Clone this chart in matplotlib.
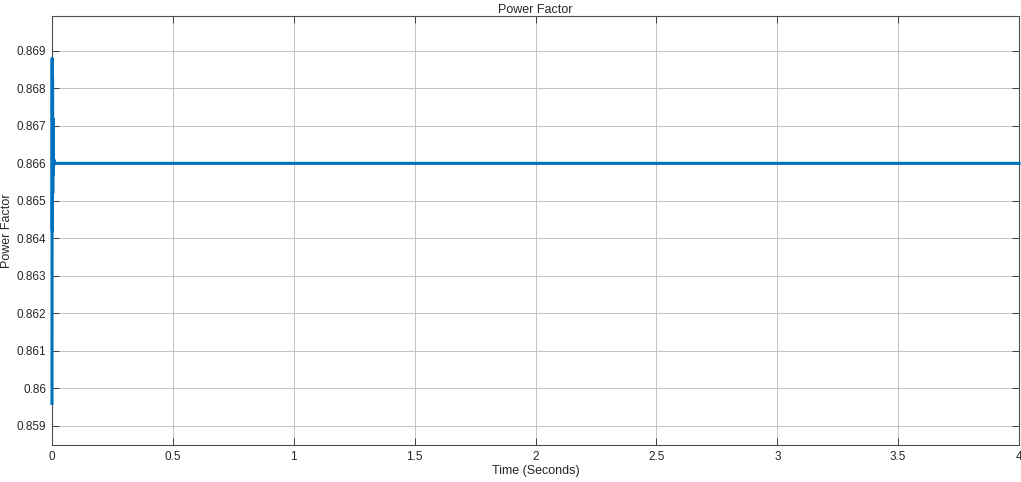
import numpy as np
import matplotlib.pyplot as plt

# simulated power factor: short transient at start, then steady at 0.866
time_s = [0.0, 0.0008, 0.0016, 0.0024, 0.0032, 0.004, 0.0048, 0.0056, 0.0064, 0.008, 0.01, 4.0]
power_factor = [0.8596, 0.8688, 0.8642, 0.8683, 0.8652, 0.8672, 0.8657, 0.8664, 0.8659, 0.8661, 0.8660, 0.8660]

xticks = [0, 0.5, 1, 1.5, 2, 2.5, 3, 3.5, 4]
xticklabels = ['0', '0.5', '1', '1.5', '2', '2.5', '3', '3.5', '4']
yticks = [0.859, 0.86, 0.861, 0.862, 0.863, 0.864, 0.865, 0.866, 0.867, 0.868, 0.869]
yticklabels = ['0.859', '0.86', '0.861', '0.862', '0.863', '0.864', '0.865', '0.866', '0.867', '0.868', '0.869']

plt.rcParams['font.family'] = ['Liberation Sans', 'DejaVu Sans']

fig = plt.figure(figsize=(10.21, 4.82), dpi=100)
ax = fig.add_axes([0.0509, 0.0768, 0.9472, 0.89])

ax.plot(time_s, power_factor, color='#0072BD', lw=2.2, zorder=5, clip_on=False)

ax.set_xlim(0, 4)
ax.set_ylim(0.85849, 0.86993)
ax.set_xticks(xticks)
ax.set_xticklabels(xticklabels)
ax.set_yticks(yticks)
ax.set_yticklabels(yticklabels)
ax.tick_params(direction='in', top=True, right=True, labelsize=8.5, colors='#262626',
               length=5, width=0.6, pad=4)
ax.grid(True, color='#c4c4c4', lw=0.7)
for s in ax.spines.values():
    s.set_color('#4d4d4d')
    s.set_linewidth(0.8)

ax.set_title('Power Factor', fontsize=9, pad=2, color='#262626')
ax.set_xlabel('Time (Seconds)', fontsize=9, labelpad=2, color='#262626')
ax.set_ylabel('Power Factor', fontsize=9, labelpad=3, color='#262626')

fig.savefig('out.png', dpi=100)
